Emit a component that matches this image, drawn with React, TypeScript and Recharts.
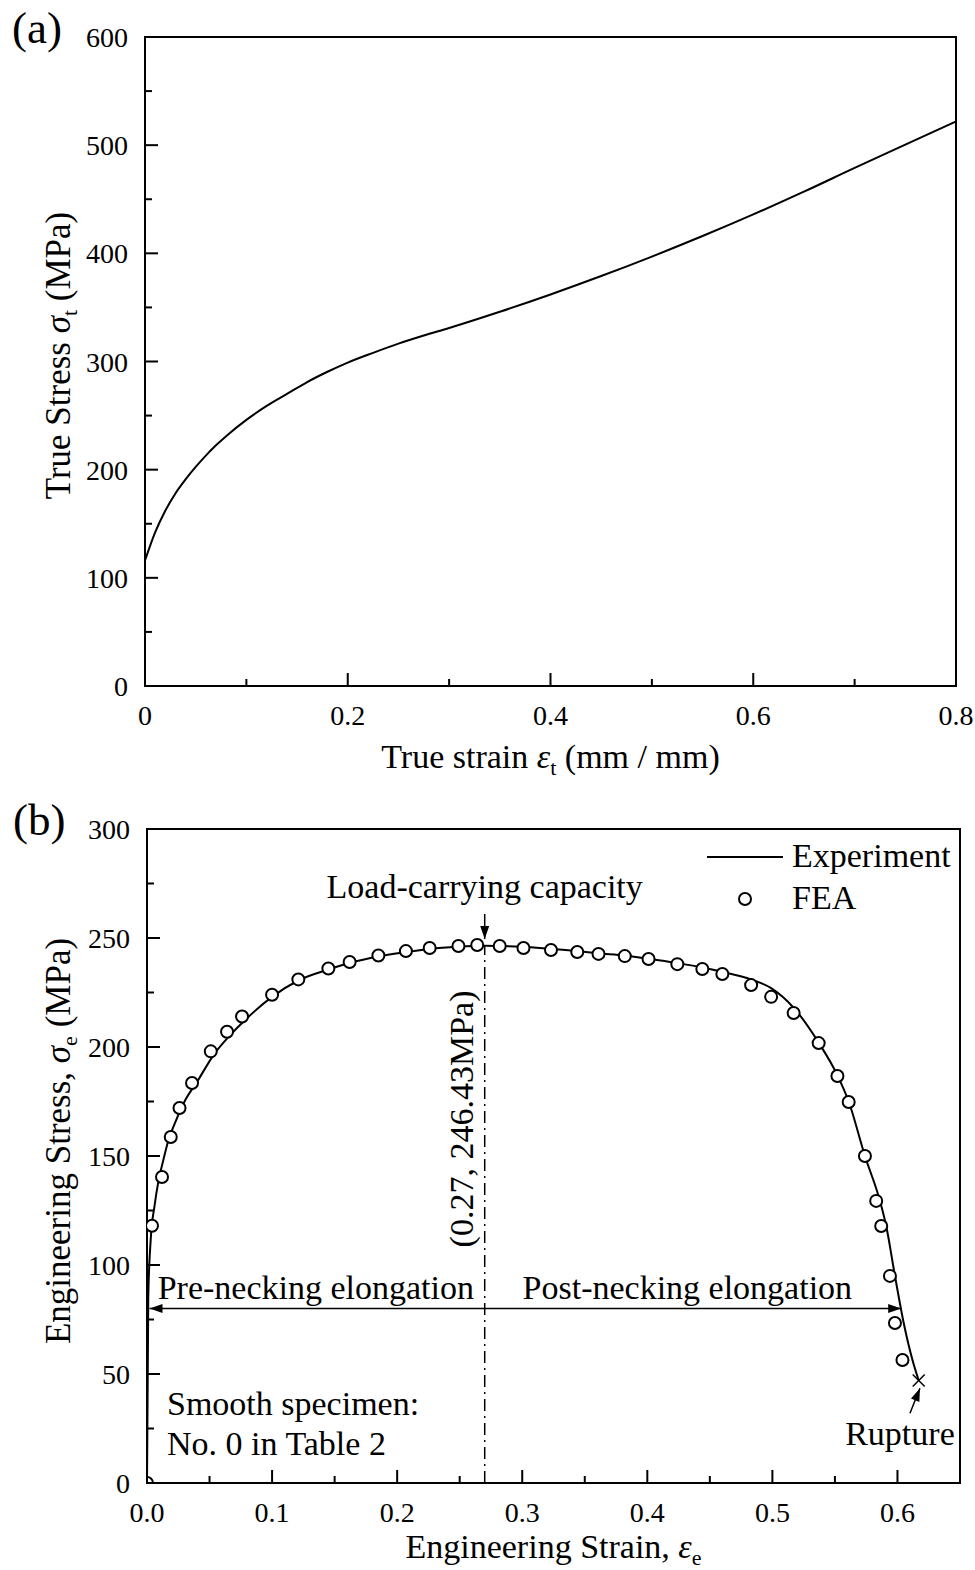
import React from 'react';
import {
  LineChart,
  ComposedChart,
  Line,
  Scatter,
  XAxis,
  YAxis,
  ReferenceArea,
  ReferenceLine,
  ReferenceDot,
  Label,
} from 'recharts';

const FONT = "'Liberation Serif', 'Times New Roman', Times, serif";
const TEXT_SIZE = 34;

// (a) true stress - true strain
const trueStrain = [0, 0.01, 0.02, 0.03, 0.04, 0.05, 0.06, 0.07, 0.08, 0.1, 0.12, 0.14, 0.16, 0.18, 0.2, 0.225, 0.25, 0.275, 0.3, 0.35, 0.4, 0.45, 0.5, 0.55, 0.6, 0.65, 0.7, 0.75, 0.8];
const trueStress = [116, 142, 162, 178, 191, 202.5, 213, 222.5, 231, 246, 259, 270, 281, 290.5, 299, 308, 316.5, 324, 331, 346, 362, 379, 397, 416, 436, 457, 479, 500.5, 522];
const trueXTicks = [0, 0.1, 0.2, 0.3, 0.4, 0.5, 0.6, 0.7, 0.8];
const trueYTicks = [0, 50, 100, 150, 200, 250, 300, 350, 400, 450, 500, 550, 600];

// (b) engineering stress - strain, experiment vs FEA
const expStrain = [0, 0.001, 0.003, 0.006, 0.009, 0.013, 0.017, 0.023, 0.03, 0.04, 0.054, 0.065, 0.076, 0.1, 0.121, 0.145, 0.162, 0.185, 0.207, 0.226, 0.249, 0.27, 0.3, 0.323, 0.344, 0.361, 0.382, 0.401, 0.424, 0.444, 0.46, 0.483, 0.499, 0.517, 0.537, 0.552, 0.561, 0.574, 0.586, 0.591, 0.598, 0.605, 0.612, 0.617];
const expStress = [0, 85, 112, 127, 138, 148, 157, 166, 175, 184, 197, 204.5, 211, 223, 230.5, 235.5, 238.5, 241.5, 243.5, 245, 246, 246.43, 246, 245, 244, 243, 242, 240.5, 238.5, 236.5, 234.5, 231, 227, 218, 202, 187, 175, 150, 129.4, 117.9, 95, 73.4, 56.4, 47];
const feaStrain = [0, 0.004, 0.012, 0.019, 0.026, 0.036, 0.051, 0.064, 0.076, 0.1, 0.121, 0.145, 0.162, 0.185, 0.207, 0.226, 0.249, 0.264, 0.282, 0.301, 0.323, 0.344, 0.361, 0.382, 0.401, 0.424, 0.444, 0.46, 0.483, 0.499, 0.517, 0.537, 0.552, 0.561, 0.574, 0.583, 0.587, 0.594, 0.598, 0.604];
const feaStress = [0, 118, 140.4, 158.7, 172, 183.5, 198, 207, 214, 224, 231, 236, 239, 242, 244, 245.4, 246.3, 246.8, 246.3, 245.4, 244.5, 243.6, 242.7, 241.7, 240.4, 238, 235.8, 233.5, 228.4, 223, 215.6, 201.8, 186.7, 174.8, 150, 129.4, 117.9, 95, 73.4, 56.4];
const peakPoint = { strain: 0.27, stress: 246.43 };
const rupturePoint = [{ strain: 0.617, stress: 47 }];
const neckingArrowY = 80;
const engXTicks = [0, 0.05, 0.1, 0.15, 0.2, 0.25, 0.3, 0.35, 0.4, 0.45, 0.5, 0.55, 0.6];
const engYTicks = [0, 25, 50, 75, 100, 125, 150, 175, 200, 225, 250, 275, 300];

const trueData = trueStrain.map((s, i) => ({ strain: s, stress: trueStress[i] }));
const expData = expStrain.map((s, i) => ({ strain: s, stress: expStress[i] }));
const feaData = feaStrain.map((s, i) => ({ strain: s, stress: feaStress[i] }));

const isMajor = (v: number, step: number) => Math.abs(v / step - Math.round(v / step)) < 1e-6;

function XTick(props: any) {
  const { x, y, payload, step, fmt } = props;
  const major = isMajor(payload.value, step);
  return (
    <g>
      <line x1={x} y1={y} x2={x} y2={y - (major ? 13 : 7)} stroke="#000" strokeWidth={2} />
      {major && (
        <text x={x} y={y + 39} textAnchor="middle" fontFamily={FONT} fontSize={28} fill="#000">
          {fmt(payload.value)}
        </text>
      )}
    </g>
  );
}

function YTick(props: any) {
  const { x, y, payload, step } = props;
  const major = isMajor(payload.value, step);
  return (
    <g>
      <line x1={x} y1={y} x2={x + (major ? 13 : 7)} y2={y} stroke="#000" strokeWidth={2} />
      {major && (
        <text x={x - 17} y={y + 10} textAnchor="end" fontFamily={FONT} fontSize={28} fill="#000">
          {payload.value}
        </text>
      )}
    </g>
  );
}

function arrowHead(x1: number, y1: number, x2: number, y2: number, len = 13, half = 4.5) {
  const dx = x2 - x1;
  const dy = y2 - y1;
  const d = Math.hypot(dx, dy) || 1;
  const ux = dx / d;
  const uy = dy / d;
  const bx = x2 - ux * len;
  const by = y2 - uy * len;
  return `${x2},${y2} ${bx - uy * half},${by + ux * half} ${bx + uy * half},${by - ux * half}`;
}

function ArrowShape(props: any) {
  const { x1, y1, x2, y2 } = props;
  return (
    <g>
      <line x1={x1} y1={y1} x2={x2} y2={y2} stroke="#000" strokeWidth={1.5} />
      <polygon points={arrowHead(x1, y1, x2, y2)} fill="#000" />
    </g>
  );
}

function DoubleArrowShape(props: any) {
  const { x1, y1, x2, y2 } = props;
  return (
    <g>
      <line x1={x1} y1={y1} x2={x2} y2={y2} stroke="#000" strokeWidth={1.5} />
      <polygon points={arrowHead(x1, y1, x2, y2)} fill="#000" />
      <polygon points={arrowHead(x2, y2, x1, y1)} fill="#000" />
    </g>
  );
}

const textAt = (content: string, anchor: 'start' | 'middle' | 'end' = 'middle') => (p: any) => (
  <text x={p.cx} y={p.cy} textAnchor={anchor} fontFamily={FONT} fontSize={TEXT_SIZE} fill="#000">
    {content}
  </text>
);

const rotatedTextAt = (content: string, dx: number) => (p: any) => (
  <text
    x={p.cx + dx}
    y={p.cy}
    transform={`rotate(-90 ${p.cx + dx} ${p.cy})`}
    textAnchor="middle"
    fontFamily={FONT}
    fontSize={TEXT_SIZE}
    fill="#000"
  >
    {content}
  </text>
);

function CrossShape(props: any) {
  const { cx, cy } = props;
  const s = 6;
  return (
    <g stroke="#000" strokeWidth={1.5}>
      <line x1={cx - s} y1={cy - s} x2={cx + s} y2={cy + s} />
      <line x1={cx - s} y1={cy + s} x2={cx + s} y2={cy - s} />
    </g>
  );
}

function OpenCircle(props: any) {
  const { cx, cy } = props;
  return <circle cx={cx} cy={cy} r={6} fill="#fff" stroke="#000" strokeWidth={2} />;
}

function TrueStrainChart() {
  return (
    <LineChart width={975} height={790} data={trueData} margin={{ top: 37, right: 19, left: 0, bottom: 0 }} style={{ overflow: 'visible' }}>
      <ReferenceArea x1={0} x2={0.8} y1={0} y2={600} fill="none" stroke="#000" strokeWidth={2} ifOverflow="visible" />
      <XAxis
        dataKey="strain"
        type="number"
        domain={[0, 0.8]}
        ticks={trueXTicks}
        interval={0}
        height={104}
        tickSize={0}
        tickMargin={0}
        tickLine={false}
        axisLine={{ stroke: '#000', strokeWidth: 2 }}
        tick={(p: any) => <XTick {...p} step={0.2} fmt={(v: number) => (v === 0 ? '0' : String(v))} />}
      >
        <Label
          content={(p: any) => {
            const vb = p.viewBox;
            return (
              <text x={vb.x + vb.width / 2} y={vb.y + 82} textAnchor="middle" fontFamily={FONT} fontSize={TEXT_SIZE} fill="#000">
                True strain <tspan fontStyle="italic">ε</tspan>
                <tspan fontSize={22} dy={7}>t</tspan>
                <tspan dy={-7}> (mm / mm)</tspan>
              </text>
            );
          }}
        />
      </XAxis>
      <YAxis
        type="number"
        domain={[0, 600]}
        ticks={trueYTicks}
        interval={0}
        width={145}
        tickSize={0}
        tickMargin={0}
        tickLine={false}
        axisLine={{ stroke: '#000', strokeWidth: 2 }}
        tick={(p: any) => <YTick {...p} step={100} />}
      >
        <Label
          content={(p: any) => {
            const vb = p.viewBox;
            const x = vb.x + 70;
            const y = vb.y + vb.height / 2 - 6;
            return (
              <text x={x} y={y} transform={`rotate(-90 ${x} ${y})`} textAnchor="middle" fontFamily={FONT} fontSize={35} fill="#000">
                True Stress <tspan fontStyle="italic">σ</tspan>
                <tspan fontSize={22} dy={7}>t</tspan>
                <tspan dy={-7}> (MPa)</tspan>
              </text>
            );
          }}
        />
      </YAxis>
      <Line dataKey="stress" type="monotone" stroke="#000" strokeWidth={2} dot={false} isAnimationActive={false} />
    </LineChart>
  );
}

function EngStrainChart() {
  return (
    <ComposedChart width={975} height={780} margin={{ top: 39, right: 15, left: 0, bottom: 0 }} style={{ overflow: 'visible' }}>
      <ReferenceArea x1={0} x2={0.65} y1={0} y2={300} fill="none" stroke="#000" strokeWidth={2} ifOverflow="visible" />
      <XAxis
        dataKey="strain"
        type="number"
        domain={[0, 0.65]}
        ticks={engXTicks}
        interval={0}
        height={87}
        tickSize={0}
        tickMargin={0}
        tickLine={false}
        axisLine={{ stroke: '#000', strokeWidth: 2 }}
        allowDataOverflow
        tick={(p: any) => <XTick {...p} step={0.1} fmt={(v: number) => v.toFixed(1)} />}
      >
        <Label
          content={(p: any) => {
            const vb = p.viewBox;
            return (
              <text x={vb.x + vb.width / 2} y={vb.y + 75} textAnchor="middle" fontFamily={FONT} fontSize={TEXT_SIZE} fill="#000">
                Engineering Strain, <tspan fontStyle="italic">ε</tspan>
                <tspan fontSize={22} dy={7}>e</tspan>
              </text>
            );
          }}
        />
      </XAxis>
      <YAxis
        dataKey="stress"
        type="number"
        domain={[0, 300]}
        ticks={engYTicks}
        interval={0}
        width={147}
        tickSize={0}
        tickMargin={0}
        tickLine={false}
        axisLine={{ stroke: '#000', strokeWidth: 2 }}
        allowDataOverflow
        tick={(p: any) => <YTick {...p} step={50} />}
      >
        <Label
          content={(p: any) => {
            const vb = p.viewBox;
            const x = vb.x + 70;
            const y = vb.y + vb.height / 2 - 15;
            return (
              <text x={x} y={y} transform={`rotate(-90 ${x} ${y})`} textAnchor="middle" fontFamily={FONT} fontSize={35} fill="#000">
                Engineering Stress, <tspan fontStyle="italic">σ</tspan>
                <tspan fontSize={22} dy={7}>e</tspan>
                <tspan dy={-7}> (MPa)</tspan>
              </text>
            );
          }}
        />
      </YAxis>

      <ReferenceLine
        segment={[{ x: peakPoint.strain, y: 0 }, { x: peakPoint.strain, y: peakPoint.stress }]}
        stroke="#000"
        strokeWidth={1.5}
        strokeDasharray="12 5 2 5"
      />
      <ReferenceLine segment={[{ x: peakPoint.strain, y: 261 }, { x: peakPoint.strain, y: 249.5 }]} shape={ArrowShape} />
      <ReferenceLine segment={[{ x: 0.002, y: neckingArrowY }, { x: 0.603, y: neckingArrowY }]} shape={DoubleArrowShape} />
      <ReferenceLine segment={[{ x: 0.61, y: 32 }, { x: 0.618, y: 43.5 }]} shape={ArrowShape} />

      <Line data={expData} dataKey="stress" type="monotone" stroke="#000" strokeWidth={2} dot={false} isAnimationActive={false} />
      <Scatter data={feaData} dataKey="stress" shape={OpenCircle} isAnimationActive={false} />
      <Scatter data={rupturePoint} dataKey="stress" shape={CrossShape} isAnimationActive={false} />

      <ReferenceDot x={peakPoint.strain} y={268.3} shape={textAt('Load-carrying capacity')} />
      <ReferenceDot x={peakPoint.strain} y={167} shape={rotatedTextAt('(0.27, 246.43MPa)', -12)} />
      <ReferenceDot x={0.135} y={84.5} shape={textAt('Pre-necking elongation')} />
      <ReferenceDot x={0.432} y={84.5} shape={textAt('Post-necking elongation')} />
      <ReferenceDot x={0.016} y={31} shape={textAt('Smooth specimen:', 'start')} />
      <ReferenceDot x={0.016} y={12.8} shape={textAt('No. 0 in Table 2', 'start')} />
      <ReferenceDot x={0.602} y={17.4} shape={textAt('Rupture')} />
    </ComposedChart>
  );
}

function EngLegend() {
  return (
    <svg width={275} height={90} style={{ position: 'absolute', left: 700, top: 835 }}>
      <line x1={7} y1={22} x2={83} y2={22} stroke="#000" strokeWidth={2} />
      <text x={92} y={32} fontFamily={FONT} fontSize={TEXT_SIZE} fill="#000">Experiment</text>
      <circle cx={45} cy={64} r={6} fill="#fff" stroke="#000" strokeWidth={2} />
      <text x={92} y={74} fontFamily={FONT} fontSize={TEXT_SIZE} fill="#000">FEA</text>
    </svg>
  );
}

export default function App() {
  return (
    <div style={{ position: 'absolute', left: 0, top: 0, width: 975, height: 1570, background: '#fff', fontFamily: FONT }}>
      <div style={{ position: 'absolute', left: 0, top: 0 }}>
        <TrueStrainChart />
      </div>
      <div style={{ position: 'absolute', left: 0, top: 790 }}>
        <EngStrainChart />
      </div>
      <EngLegend />
      <div style={{ position: 'absolute', left: 12, top: 6, fontSize: 45, lineHeight: '45px' }}>(a)</div>
      <div style={{ position: 'absolute', left: 13, top: 798, fontSize: 45, lineHeight: '45px' }}>(b)</div>
    </div>
  );
}
